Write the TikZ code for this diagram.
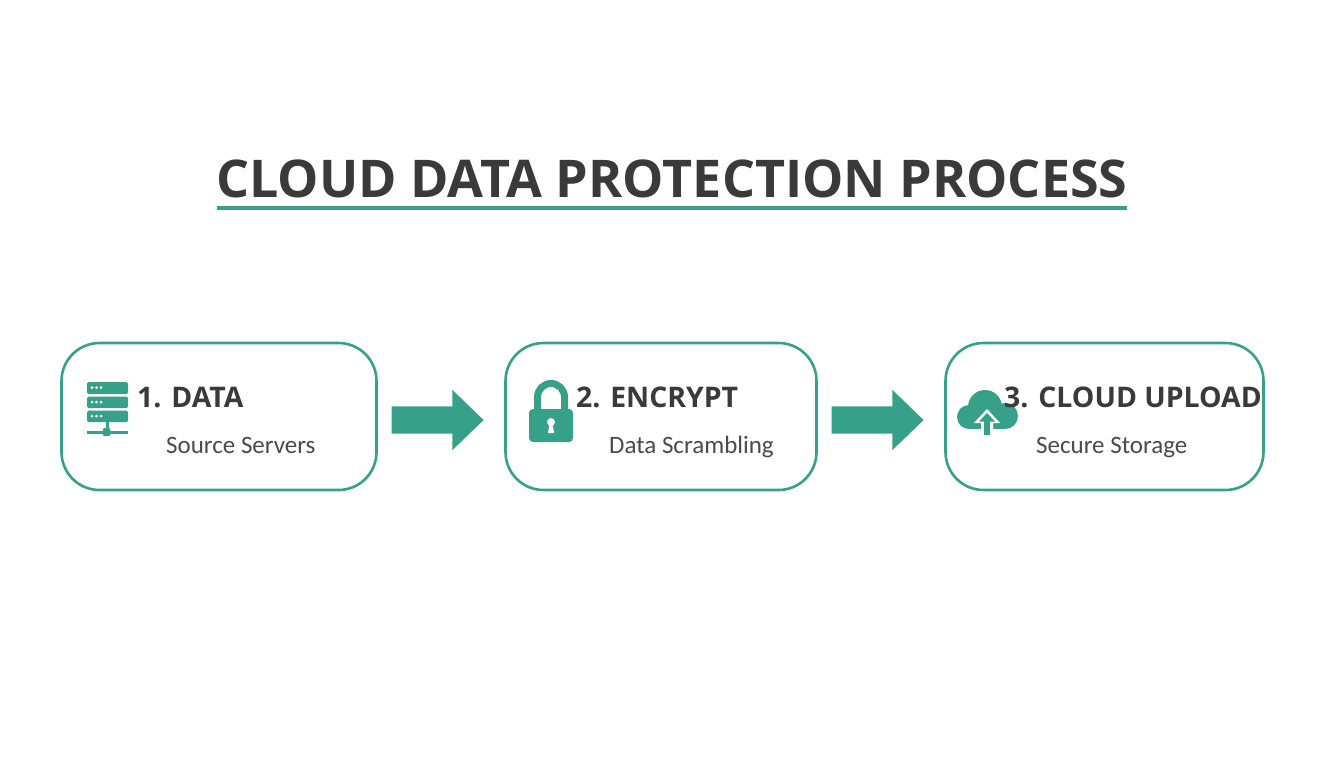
\documentclass[tikz,border=0pt]{standalone}
\usepackage{fontspec}
\setmainfont{Open Sans}
\newfontfamily\subfont{Carlito}
\usetikzlibrary{shapes.arrows}
\definecolor{teal1}{HTML}{36A088}
\definecolor{ink}{HTML}{3A3A3A}
\definecolor{subink}{HTML}{4A4A4A}
\tikzset{
  card/.style={draw=teal1,line width=2.6pt,rounded corners=38pt,fill=white,inner sep=0pt},
  head/.style={anchor=base west,inner sep=0pt,text=ink,font=\fontsize{28.4}{32}\selectfont\bfseries},
  sub/.style={anchor=base west,inner sep=0pt,text=subink,font=\subfont\fontsize{25}{28}\selectfont},
  flow/.style={single arrow,fill=teal1,inner sep=0pt,minimum height=92pt,single arrow head extend=16.5pt,single arrow tip angle=88,shape border rotate=0},
}
\begin{document}
\begin{tikzpicture}[x=1pt,y=-1pt]
\useasboundingbox (0,0) rectangle (1344,768);
\node[anchor=base west,inner sep=0pt,text=ink,font=\fontsize{52}{56}\selectfont\bfseries] (title) at (216,197) {CLOUD DATA PROTECTION PROCESS};
\coordinate (ruleL) at (217,208);
\coordinate (ruleR) at (1127,208);
\draw[teal1,line width=4pt] (ruleL) -- (ruleR);
% cards
\node[card,minimum width=315pt,minimum height=147pt] (c1) at (219,416.5) {};
\node[card,minimum width=311pt,minimum height=147pt] (c2) at (661,416.5) {};
\node[card,minimum width=318pt,minimum height=147pt] (c3) at (1104.5,416.5) {};
% arrows
\node[flow] (a1) at (430.5,420) {\rule{0pt}{27pt}};
\node[flow] (a2) at (870.5,420) {\rule{0pt}{27pt}};
% server icon
\foreach \y/\h in {382/12,396.5/11.5,410.5/11.5}{
  \fill[teal1,rounded corners=1.5pt] (87,\y) rectangle (128,\y+\h);
  \foreach \x in {92,96.5,101} \fill[white] (\x,\y+5.5) circle (1.5pt);
}
\fill[teal1] (105.5,422) rectangle (108.5,430);
\fill[teal1] (87,430.5) rectangle (128,433.5);
\fill[teal1,rounded corners=1pt] (103,428) rectangle (110,436);
% lock icon
\draw[teal1,line width=7pt] (537.5,412) -- (537.5,397) arc[start angle=180,end angle=360,radius=13.5] -- (564.5,412);
\fill[teal1,rounded corners=4pt] (529,409) rectangle (573,442);
\fill[white] (551,422) circle (4pt);
\fill[white] (549.5,423) -- (552.5,423) -- (554,433) -- (548,433) -- cycle;
% cloud icon
\fill[teal1] (969,417) circle (12pt) (985,407) circle (17pt) (1005,416) circle (13pt);
\fill[teal1] (969,412) rectangle (1005,429);
\fill[white] (987,409) -- (1000,423) -- (993,423) -- (993,430) -- (981,430) -- (981,423) -- (974,423) -- cycle;
\fill[teal1] (987,413) -- (995,421.5) -- (990,421.5) -- (990,435) -- (984,435) -- (984,421.5) -- (979,421.5) -- cycle;
% text
\node[head] (t1) at (137,407) {1. DATA};
\node[sub] (s1) at (166,453) {Source Servers};
\node[head] (t2) at (576,407) {2. ENCRYPT};
\node[sub] (s2) at (609,453) {Data Scrambling};
\node[head] (t3) at (1004,407) {3. CLOUD UPLOAD};
\node[sub] (s3) at (1036,453) {Secure Storage};
\end{tikzpicture}
\end{document}
